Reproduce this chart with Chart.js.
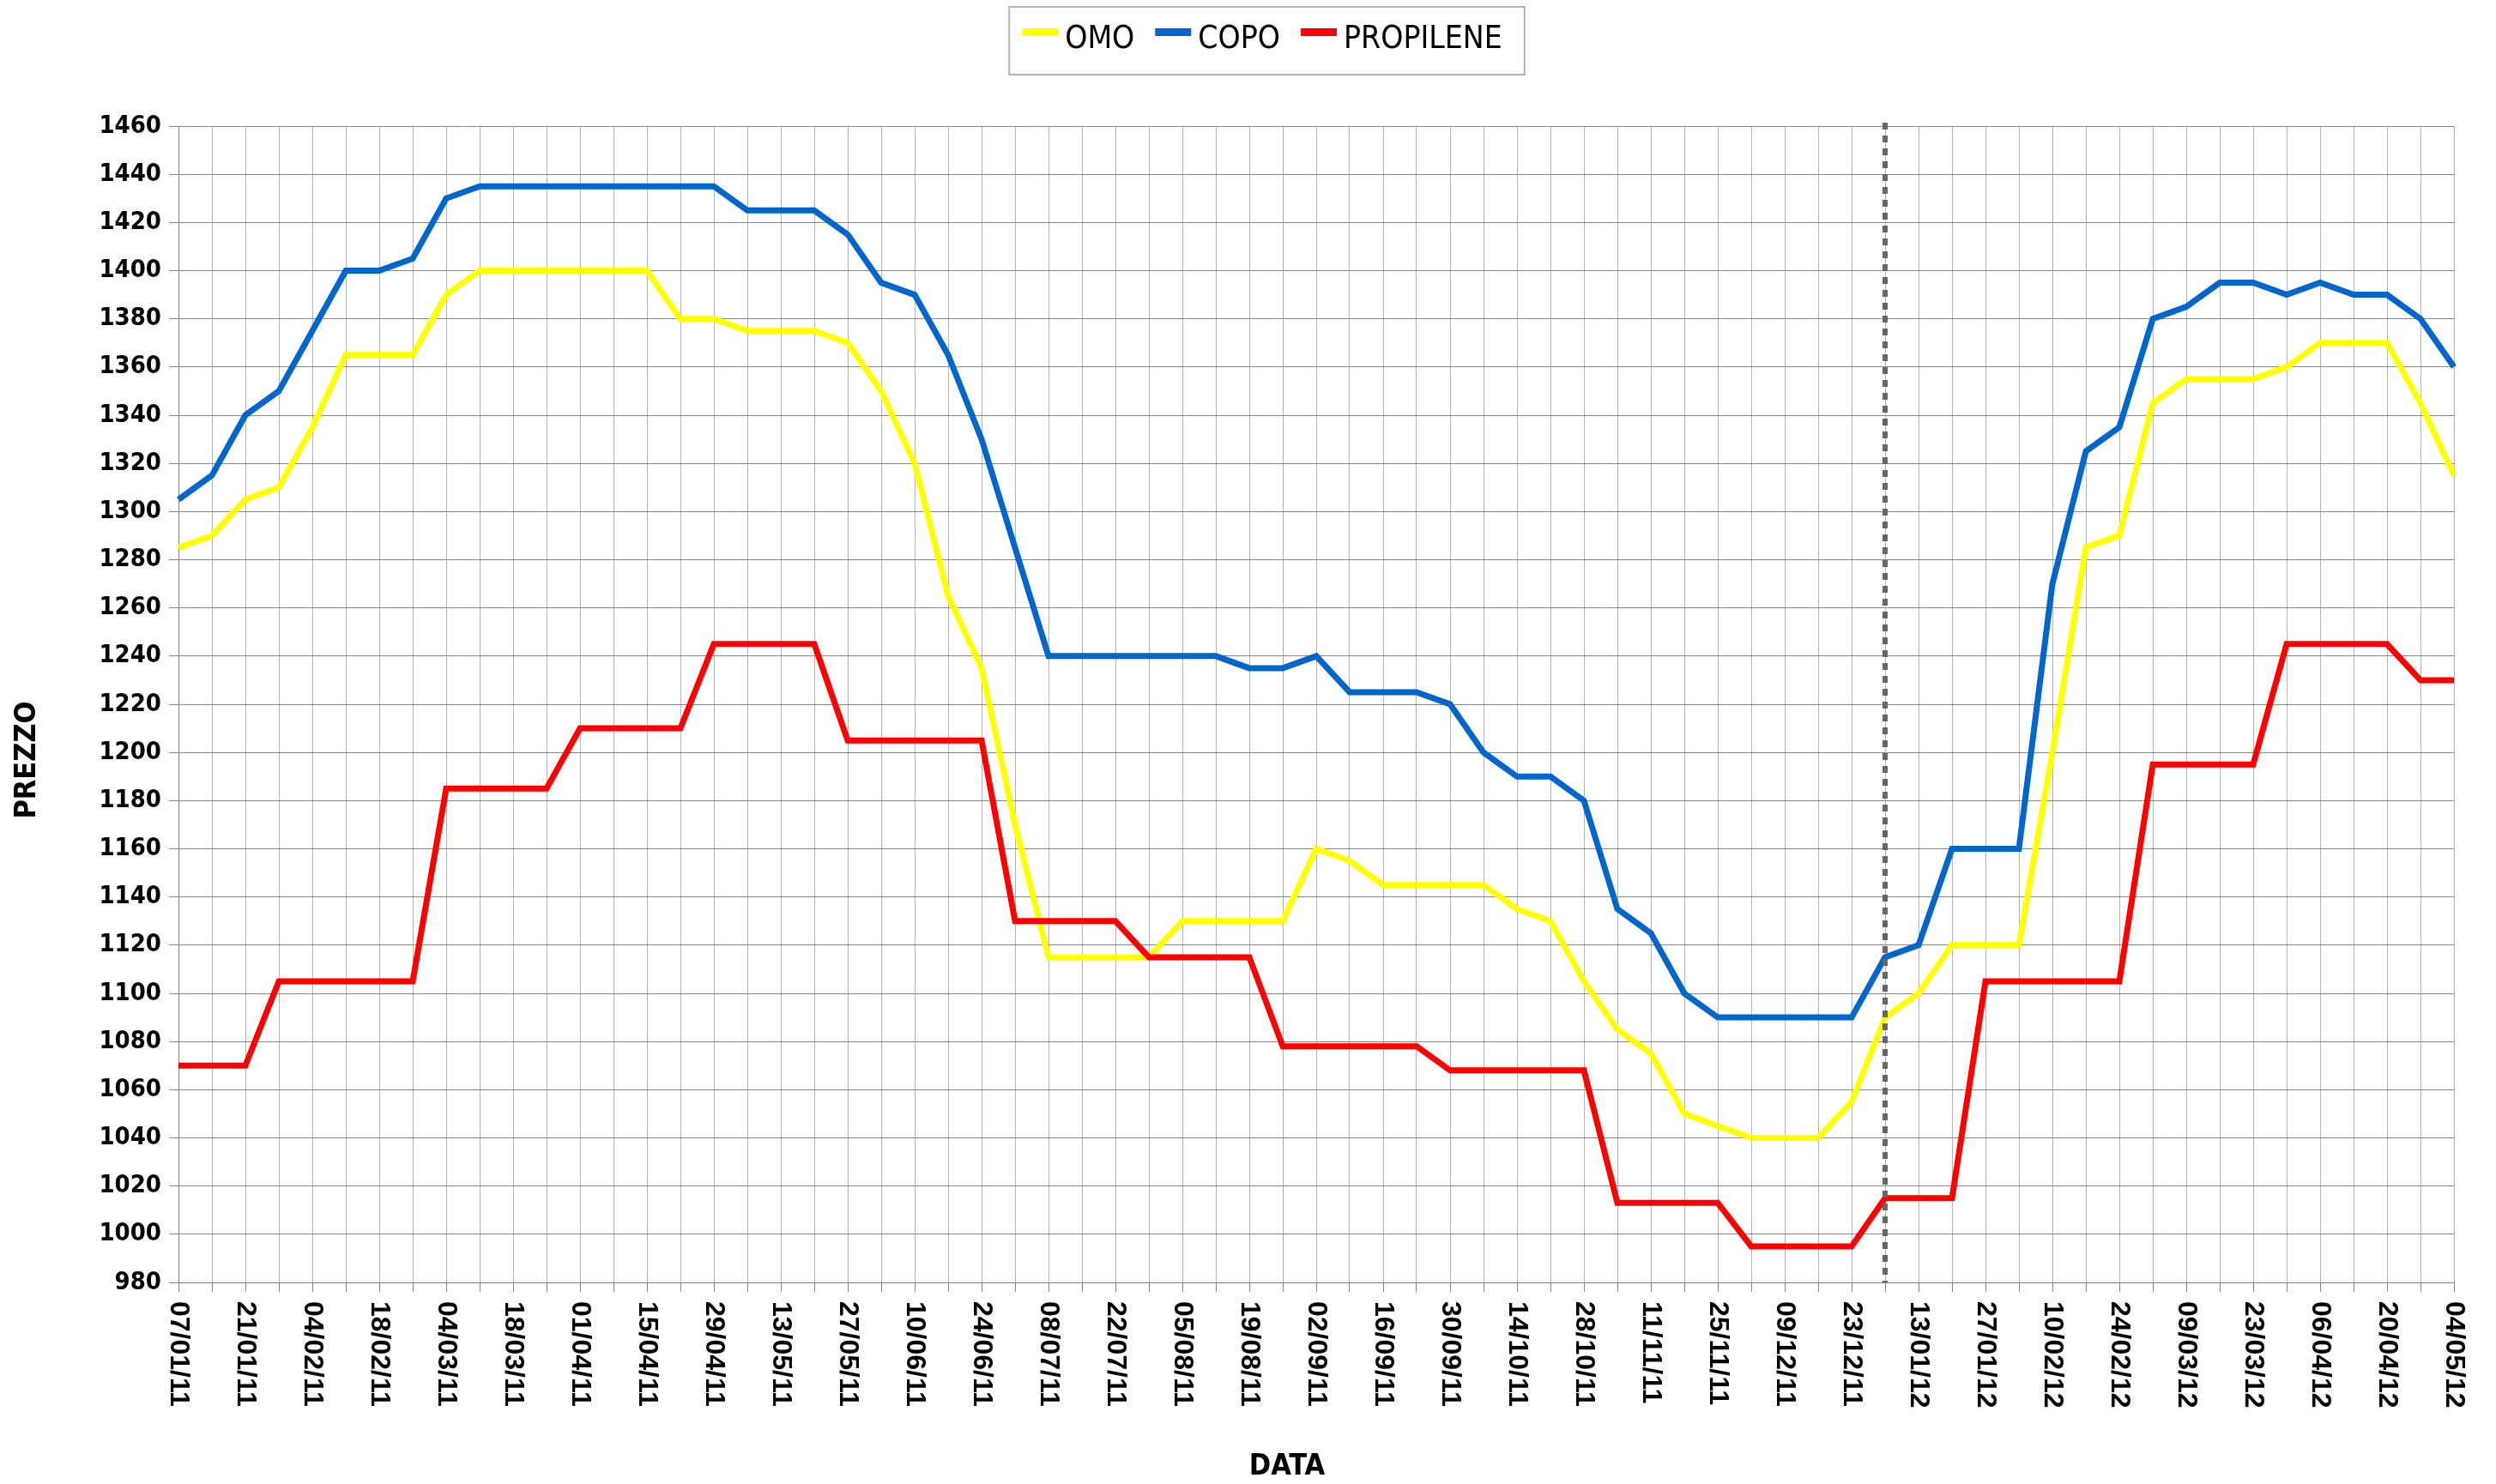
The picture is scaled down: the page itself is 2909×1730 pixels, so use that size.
<!DOCTYPE html>
<html>
<head>
<meta charset="utf-8">
<script src="https://cdn.jsdelivr.net/npm/chart.js@4.4.1/dist/chart.umd.min.js"></script>
<style>
  html, body { margin: 0; padding: 0; background: #fff; }
  canvas { display: block; }
</style>
</head>
<body>
<canvas id="myChart" width="2909" height="1730"></canvas>
<script>
// weekly dates (the unlabeled 51st point sits on the year break)
const dates = [
  "07/01/11", "14/01/11", "21/01/11", "28/01/11", "04/02/11", "11/02/11", "18/02/11", "25/02/11", "04/03/11", "11/03/11",
  "18/03/11", "25/03/11", "01/04/11", "08/04/11", "15/04/11", "22/04/11", "29/04/11", "06/05/11", "13/05/11", "20/05/11",
  "27/05/11", "03/06/11", "10/06/11", "17/06/11", "24/06/11", "01/07/11", "08/07/11", "15/07/11", "22/07/11", "29/07/11",
  "05/08/11", "12/08/11", "19/08/11", "26/08/11", "02/09/11", "09/09/11", "16/09/11", "23/09/11", "30/09/11", "07/10/11",
  "14/10/11", "21/10/11", "28/10/11", "04/11/11", "11/11/11", "18/11/11", "25/11/11", "02/12/11", "09/12/11", "16/12/11",
  "23/12/11", "06/01/12", "13/01/12", "20/01/12", "27/01/12", "03/02/12", "10/02/12", "17/02/12", "24/02/12", "02/03/12",
  "09/03/12", "16/03/12", "23/03/12", "30/03/12", "06/04/12", "13/04/12", "20/04/12", "27/04/12", "04/05/12"
];

const omo = [
  1285, 1290, 1305, 1310, 1335, 1365, 1365, 1365, 1390, 1400,
  1400, 1400, 1400, 1400, 1400, 1380, 1380, 1375, 1375, 1375,
  1370, 1350, 1320, 1265, 1235, 1170, 1115, 1115, 1115, 1115,
  1130, 1130, 1130, 1130, 1160, 1155, 1145, 1145, 1145, 1145,
  1135, 1130, 1105, 1085, 1075, 1050, 1045, 1040, 1040, 1040,
  1055, 1090, 1100, 1120, 1120, 1120, 1200, 1285, 1290, 1345,
  1355, 1355, 1355, 1360, 1370, 1370, 1370, 1345, 1315
];

const copo = [
  1305, 1315, 1340, 1350, 1375, 1400, 1400, 1405, 1430, 1435,
  1435, 1435, 1435, 1435, 1435, 1435, 1435, 1425, 1425, 1425,
  1415, 1395, 1390, 1365, 1330, 1285, 1240, 1240, 1240, 1240,
  1240, 1240, 1235, 1235, 1240, 1225, 1225, 1225, 1220, 1200,
  1190, 1190, 1180, 1135, 1125, 1100, 1090, 1090, 1090, 1090,
  1090, 1115, 1120, 1160, 1160, 1160, 1270, 1325, 1335, 1380,
  1385, 1395, 1395, 1390, 1395, 1390, 1390, 1380, 1360
];

const propilene = [
  1070, 1070, 1070, 1105, 1105, 1105, 1105, 1105, 1185, 1185,
  1185, 1185, 1210, 1210, 1210, 1210, 1245, 1245, 1245, 1245,
  1205, 1205, 1205, 1205, 1205, 1130, 1130, 1130, 1130, 1115,
  1115, 1115, 1115, 1078, 1078, 1078, 1078, 1078, 1068, 1068,
  1068, 1068, 1068, 1013, 1013, 1013, 1013, 995, 995, 995,
  995, 1015, 1015, 1015, 1105, 1105, 1105, 1105, 1105, 1195,
  1195, 1195, 1195, 1245, 1245, 1245, 1245, 1230, 1230
];

const seriesNames = ["OMO", "COPO", "PROPILENE"];
const seriesColors = ["#ffff00", "#0066cc", "#ff0000"];
const yearBreak = 51;

const condensed = "'DejaVu Sans Condensed', 'DejaVu Sans', sans-serif";

// legend, rotated date labels, axis titles, year separator
const extras = {
  id: 'extras',
  afterDatasetsDraw(chart) {
    const ctx = chart.ctx, area = chart.chartArea;
    const xd = chart.scales.x.getPixelForValue(yearBreak);
    ctx.save();
    ctx.strokeStyle = '#666666';
    ctx.lineWidth = 6;
    ctx.setLineDash([8, 7]);
    ctx.beginPath();
    ctx.moveTo(xd, area.top - 4);
    ctx.lineTo(xd, area.bottom);
    ctx.stroke();
    ctx.restore();
  },
  afterDraw(chart) {
    const ctx = chart.ctx, area = chart.chartArea, xs = chart.scales.x;
    ctx.save();
    ctx.fillStyle = '#000';

    // date labels, read top to bottom
    ctx.font = "bold 32px 'Liberation Sans', Arial, sans-serif";
    ctx.textAlign = 'left';
    ctx.textBaseline = 'middle';
    dates.forEach(function (d, i) {
      if (i % 2) return;
      ctx.save();
      ctx.translate(xs.getPixelForValue(i), area.bottom + 22);
      ctx.rotate(Math.PI / 2);
      ctx.fillText(d, 0, 0);
      ctx.restore();
    });

    // axis titles
    ctx.font = "bold 34px " + condensed;
    ctx.textAlign = 'center';
    ctx.fillText("DATA", 1500, 1710);
    ctx.save();
    ctx.translate(32, 886);
    ctx.rotate(-Math.PI / 2);
    ctx.fillText("PREZZO", 0, 0);
    ctx.restore();

    // legend
    ctx.font = "37px " + condensed;
    ctx.textAlign = 'left';
    const sw = 42, gap = 8, sep = 24, padL = 15, padR = 26;
    let total = padL + padR;
    seriesNames.forEach(function (n, i) {
      total += sw + gap + ctx.measureText(n).width + (i < seriesNames.length - 1 ? sep : 0);
    });
    const left = chart.width / 2 + 22 - total / 2;
    ctx.strokeStyle = '#b3b3b3';
    ctx.lineWidth = 2;
    ctx.strokeRect(left, 8, total, 79);
    let x = left + padL;
    seriesNames.forEach(function (n, i) {
      ctx.fillStyle = seriesColors[i];
      ctx.fillRect(x, 33, sw, 9);
      x += sw + gap;
      ctx.fillStyle = '#000';
      ctx.fillText(n, x, 46);
      x += ctx.measureText(n).width + sep;
    });
    ctx.restore();
  }
};

const data = {
  labels: dates,
  datasets: [
    { label: seriesNames[0], data: omo, borderColor: seriesColors[0], backgroundColor: seriesColors[0], order: 2 },
    { label: seriesNames[1], data: copo, borderColor: seriesColors[1], backgroundColor: seriesColors[1], order: 1 },
    { label: seriesNames[2], data: propilene, borderColor: seriesColors[2], backgroundColor: seriesColors[2], order: 0 }
  ]
};

const config = {
  type: 'line',
  data: data,
  options: {
    responsive: false,
    animation: false,
    layout: { padding: { top: 147, right: 49, left: 0, bottom: 0 } },
    elements: {
      line: { borderWidth: 7, tension: 0, fill: false },
      point: { radius: 0 }
    },
    plugins: {
      legend: { display: false },
      tooltip: { enabled: false }
    },
    scales: {
      x: {
        offset: false,
        grid: { color: '#b3b3b3', lineWidth: 1, tickLength: 11, tickColor: '#888888' },
        border: { color: '#808080', width: 1 },
        ticks: { display: false, autoSkip: false },
        afterFit: function (s) { s.height = 235; }
      },
      y: {
        min: 980,
        max: 1460,
        grid: { color: '#888888', lineWidth: 1, tickLength: 11 },
        border: { color: '#808080', width: 1 },
        ticks: {
          stepSize: 20,
          padding: 9,
          color: '#000',
          font: { family: condensed, size: 29, weight: 'bold' },
          callback: function (v) { return String(v); }
        },
        afterFit: function (s) { s.width = 208; }
      }
    }
  },
  plugins: [extras]
};

const myChart = new Chart(document.getElementById('myChart'), config);
</script>
</body>
</html>
